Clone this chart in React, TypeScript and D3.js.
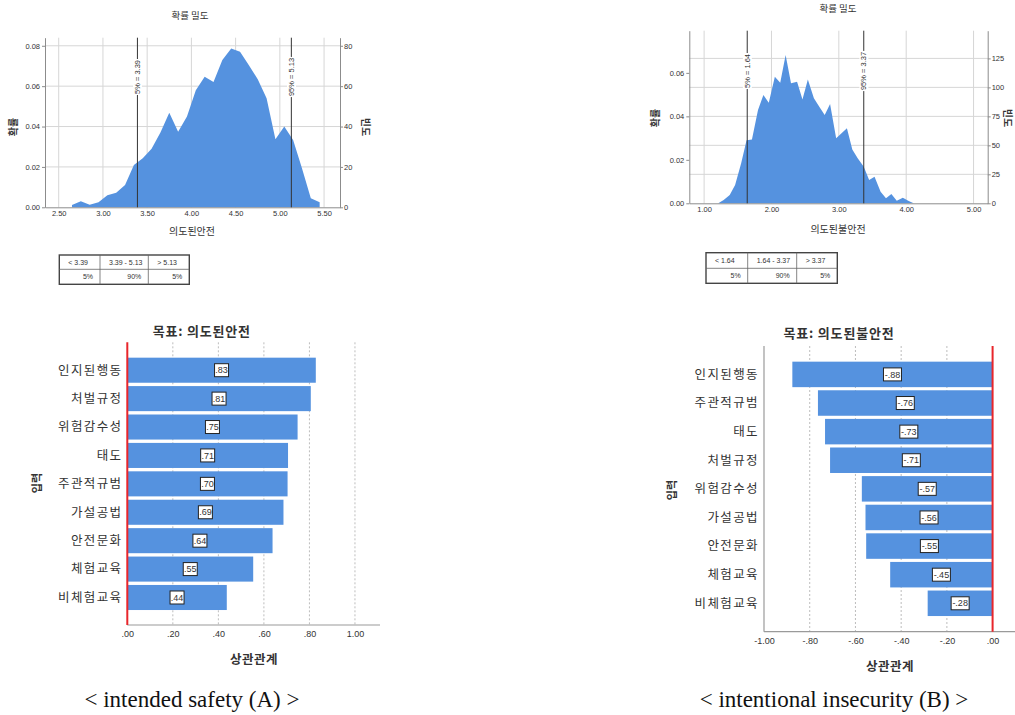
import React, { useRef, useEffect } from "react";
import * as d3 from "d3";

const KR = "'Noto Sans CJK KR', 'Noto Sans', sans-serif";
const NUM = "'Liberation Sans', Arial, sans-serif";
const BLUE = "#5592df";

// 확률 밀도 – 의도된안전
const safetyScores = [2.65, 2.75, 2.85, 2.95, 3.05, 3.15, 3.25, 3.35, 3.45, 3.55, 3.65, 3.75, 3.85, 3.95, 4.05, 4.15, 4.25, 4.35, 4.45, 4.55, 4.65, 4.75, 4.85, 4.95, 5.05, 5.15, 5.25, 5.35, 5.45];
const safetyDensity = [0.0012, 0.003, 0.0013, 0.0025, 0.006, 0.0072, 0.011, 0.021, 0.0243, 0.029, 0.037, 0.0468, 0.0374, 0.045, 0.058, 0.0647, 0.062, 0.073, 0.0787, 0.077, 0.0704, 0.0634, 0.054, 0.0337, 0.04, 0.0333, 0.0193, 0.0045, 0.0025];
const safetyXTicks = [2.5, 3, 3.5, 4, 4.5, 5, 5.5];
const safetyProbTicks = [0, 0.02, 0.04, 0.06, 0.08];
const safetyFreqTicks = [0, 20, 40, 60, 80];
const safetyCuts = [3.39, 5.13];
const safetyCutLabels = ["5% = 3.39", "95% = 5.13"];
const safetyRanges = ["< 3.39", "3.39 - 5.13", "> 5.13"];
const safetyShares = ["5%", "90%", "5%"];

// 확률 밀도 – 의도된불안전
const insecurityScores = [1.21, 1.29, 1.38, 1.46, 1.55, 1.63, 1.71, 1.8, 1.88, 1.96, 2.05, 2.13, 2.21, 2.29, 2.38, 2.46, 2.54, 2.63, 2.71, 2.79, 2.87, 2.96, 3.04, 3.12, 3.2, 3.28, 3.37, 3.45, 3.53, 3.62, 3.7, 3.78, 3.86, 3.95, 4.03, 4.11];
const insecurityDensity = [0, 0.0015, 0.0038, 0.0084, 0.0184, 0.029, 0.0294, 0.0429, 0.0498, 0.0463, 0.0582, 0.0555, 0.0682, 0.0552, 0.0559, 0.0478, 0.057, 0.0483, 0.0444, 0.0406, 0.0457, 0.0299, 0.0322, 0.0345, 0.0248, 0.0207, 0.0168, 0.0107, 0.0122, 0.0053, 0.0023, 0.0043, 0.0012, 0.0026, 0.0012, 0];
const insecurityXTicks = [1, 2, 3, 4, 5];
const insecurityProbTicks = [0, 0.02, 0.04, 0.06];
const insecurityFreqTicks = [0, 25, 50, 75, 100, 125];
const insecurityCuts = [1.64, 3.37];
const insecurityCutLabels = ["5% = 1.64", "95% = 3.37"];
const insecurityRanges = ["< 1.64", "1.64 - 3.37", "> 3.37"];
const insecurityShares = ["5%", "90%", "5%"];

// 상관관계 (민감도)
const safetyFactors = ["인지된행동", "처벌규정", "위험감수성", "태도", "주관적규범", "가설공법", "안전문화", "체험교육", "비체험교육"];
const safetyCorr = [0.828, 0.806, 0.748, 0.706, 0.704, 0.686, 0.638, 0.553, 0.437];
const safetyCorrTicks = [0, 0.2, 0.4, 0.6, 0.8, 1];

const insecurityFactors = ["인지된행동", "주관적규범", "태도", "처벌규정", "위험감수성", "가설공법", "안전문화", "체험교육", "비체험교육"];
const insecurityCorr = [-0.876, -0.764, -0.733, -0.711, -0.572, -0.556, -0.553, -0.448, -0.284];
const insecurityCorrTicks = [-1, -0.8, -0.6, -0.4, -0.2, 0];

const fmt2 = (v) => v.toFixed(2).replace(/^(-?)0\./, "$1.");

function drawDensity(svg, c) {
  const x = d3.scaleLinear().domain(c.xDomain).range([c.left, c.right]);
  const y = d3.scaleLinear().domain([0, c.yMax]).range([c.bottom, c.top]);
  const yf = d3.scaleLinear().domain([0, c.freqMax]).range([c.bottom, c.top]);
  const g = svg.append("g");

  // grid
  g.selectAll("line.vg").data(c.xTicks).join("line").attr("class", "vg")
    .attr("x1", (d) => x(d)).attr("x2", (d) => x(d))
    .attr("y1", c.top).attr("y2", c.bottom)
    .attr("stroke", "#d6d6d6");
  g.selectAll("line.hg").data(c.freqTicks.filter((d) => d > 0)).join("line").attr("class", "hg")
    .attr("x1", c.left).attr("x2", c.right)
    .attr("y1", (d) => yf(d)).attr("y2", (d) => yf(d))
    .attr("stroke", "#d6d6d6");

  const pts = c.xs.map((v, i) => [v, c.ys[i]]);
  g.append("path").datum(pts)
    .attr("d", d3.area().x((d) => x(d[0])).y0(c.bottom).y1((d) => y(d[1])))
    .attr("fill", BLUE);

  const styleAxis = (sel) => {
    sel.select(".domain").attr("stroke", "#8c8c8c");
    sel.selectAll(".tick line").attr("stroke", "#8c8c8c");
    sel.selectAll("text").attr("fill", "#333").style("font-family", NUM).style("font-size", "7.5px");
  };

  g.append("g").attr("transform", `translate(${c.left},0)`)
    .call(d3.axisLeft(y).tickValues(c.probTicks).tickFormat(d3.format(".2f")).tickSize(3).tickPadding(2).tickSizeOuter(0))
    .call(styleAxis);
  g.append("g").attr("transform", `translate(${c.right},0)`)
    .call(d3.axisRight(yf).tickValues(c.freqTicks).tickFormat(d3.format("d")).tickSize(3).tickPadding(1).tickSizeOuter(0))
    .call(styleAxis);
  g.append("g").attr("transform", `translate(0,${c.bottom})`)
    .call(d3.axisBottom(x).tickValues(c.xTicks).tickFormat(d3.format(".2f")).tickSize(0).tickPadding(3).tickSizeOuter(0))
    .call(styleAxis);

  // percentile lines
  c.cuts.forEach((v, i) => {
    g.append("line").attr("x1", x(v)).attr("x2", x(v)).attr("y1", c.top).attr("y2", c.bottom)
      .attr("stroke", "#333").attr("stroke-width", 1);
    const lg = g.append("g").attr("transform", `translate(${x(v)},${c.cutMidY}) rotate(-90)`);
    const rect = lg.append("rect").attr("fill", "#fff");
    const t = lg.append("text").attr("text-anchor", "middle").attr("dy", "0.35em")
      .style("font-family", NUM).style("font-size", "7.5px").attr("fill", "#333").text(c.cutLabels[i]);
    const bb = t.node().getBBox();
    rect.attr("x", bb.x - 1).attr("y", bb.y).attr("width", bb.width + 2).attr("height", bb.height);
  });

  g.append("text").attr("x", c.titleX).attr("y", c.titleY).attr("text-anchor", "middle")
    .style("font-family", KR).style("font-size", "9.5px").attr("fill", "#333").text("확률 밀도");
  g.append("text").attr("x", c.xLabelX).attr("y", c.xLabelY).attr("text-anchor", "middle")
    .style("font-family", KR).style("font-size", "10px").attr("fill", "#333").text(c.xLabel);
  g.append("text").attr("transform", `translate(${c.yLabelX},${c.yLabelY}) rotate(-90)`).attr("text-anchor", "middle")
    .attr("dy", "0.35em").style("font-family", KR).style("font-size", "10px").style("font-weight", "bold")
    .attr("fill", "#333").text("확률");
  g.append("text").attr("transform", `translate(${c.freqLabelX},${c.yLabelY}) rotate(90)`).attr("text-anchor", "middle")
    .attr("dy", "0.35em").style("font-family", KR).style("font-size", "10px").style("font-weight", "bold")
    .attr("fill", "#333").text("빈도");

  // 구간 표
  const tb = c.table;
  const tg = svg.append("g");
  tg.append("rect").attr("x", tb.x0).attr("y", tb.y0).attr("width", tb.x3 - tb.x0).attr("height", tb.y2 - tb.y0)
    .attr("fill", "#fff").attr("stroke", "#444").attr("stroke-width", 1.4);
  tg.append("line").attr("x1", tb.x0).attr("x2", tb.x3).attr("y1", tb.y1).attr("y2", tb.y1).attr("stroke", "#666").attr("stroke-width", 0.8);
  [tb.x1, tb.x2].forEach((xx) => {
    tg.append("line").attr("x1", xx).attr("x2", xx).attr("y1", tb.y0).attr("y2", tb.y2).attr("stroke", "#666").attr("stroke-width", 0.8);
  });
  const cols = [[tb.x0, tb.x1], [tb.x1, tb.x2], [tb.x2, tb.x3]];
  cols.forEach(([a, b], i) => {
    tg.append("text").attr("x", a + 9).attr("y", (tb.y0 + tb.y1) / 2).attr("dy", "0.35em")
      .style("font-family", NUM).style("font-size", "7px").attr("fill", "#333").text(c.ranges[i]);
    tg.append("text").attr("x", b - 7).attr("y", (tb.y1 + tb.y2) / 2).attr("dy", "0.35em").attr("text-anchor", "end")
      .style("font-family", NUM).style("font-size", "7px").attr("fill", "#333").text(c.shares[i]);
  });
}

function drawBars(svg, c) {
  const x = d3.scaleLinear().domain(c.xDomain).range([c.left, c.right]);
  const y = d3.scaleBand().domain(c.factors).range([c.bandTop, c.bandBottom]).paddingInner(c.pad).paddingOuter(c.pad / 2);
  const g = svg.append("g");

  g.selectAll("line.grid").data(c.ticks.filter((d) => d !== 0 && d !== c.xDomain[0])).join("line").attr("class", "grid")
    .attr("x1", (d) => x(d)).attr("x2", (d) => x(d))
    .attr("y1", c.top).attr("y2", c.axisY)
    .attr("stroke", "#bdbdbd").attr("stroke-dasharray", "2,2");

  const rows = c.factors.map((f, i) => ({ f, v: c.values[i] }));
  g.selectAll("rect.bar").data(rows).join("rect").attr("class", "bar")
    .attr("x", (d) => Math.min(x(0), x(d.v)))
    .attr("width", (d) => Math.abs(x(d.v) - x(0)))
    .attr("y", (d) => y(d.f)).attr("height", y.bandwidth())
    .attr("fill", BLUE);

  // bottom axis
  g.append("g").attr("transform", `translate(0,${c.axisY})`)
    .call(d3.axisBottom(x).tickValues(c.ticks).tickFormat(fmt2).tickSize(0).tickPadding(6).tickSizeOuter(0))
    .call((sel) => {
      sel.select(".domain").attr("stroke", "#9a9a9a").attr("stroke-width", 1.2).attr("d", `M${c.left},0H${c.right}`);
      sel.selectAll("text").attr("fill", "#333").style("font-family", NUM).style("font-size", "9px");
    });

  if (c.leftAxisLine) {
    g.append("line").attr("x1", c.left).attr("x2", c.left).attr("y1", c.top).attr("y2", c.axisY)
      .attr("stroke", "#9a9a9a").attr("stroke-width", 1.2);
  }
  g.append("line").attr("x1", x(0)).attr("x2", x(0)).attr("y1", c.top).attr("y2", c.axisY)
    .attr("stroke", "#e8262b").attr("stroke-width", 2);

  // category labels
  g.selectAll("text.cat").data(rows).join("text").attr("class", "cat")
    .attr("x", c.catX).attr("y", (d) => y(d.f) + y.bandwidth() / 2).attr("dy", "0.35em")
    .attr("text-anchor", "end").style("font-family", KR).style("font-size", "12.5px")
    .style("letter-spacing", "1.4px").attr("fill", "#333")
    .text((d) => d.f);

  // value boxes
  rows.forEach((d) => {
    const cx = x(d.v / 2);
    const cy = y(d.f) + y.bandwidth() / 2;
    const w = d.v < 0 ? 18 : 14;
    g.append("rect").attr("x", cx - w / 2).attr("y", cy - 6.5).attr("width", w).attr("height", 13)
      .attr("fill", "#fff").attr("stroke", "#222").attr("stroke-width", 1);
    g.append("text").attr("x", cx).attr("y", cy).attr("dy", "0.35em").attr("text-anchor", "middle")
      .style("font-family", NUM).style("font-size", "9px").attr("fill", "#333").text(fmt2(d.v));
  });

  g.append("text").attr("x", c.titleX).attr("y", c.titleY).attr("text-anchor", "middle")
    .style("font-family", KR).style("font-size", "13px").style("font-weight", "bold").attr("fill", "#333")
    .style("letter-spacing", "0.8px").text(c.title);
  g.append("text").attr("x", c.xLabelX).attr("y", c.xLabelY).attr("text-anchor", "middle")
    .style("font-family", KR).style("font-size", "12.5px").style("font-weight", "bold").attr("fill", "#333")
    .style("letter-spacing", "0.5px").text("상관관계");
  g.append("text").attr("transform", `translate(${c.yLabelX},${c.yLabelY}) rotate(-90)`).attr("text-anchor", "middle")
    .attr("dy", "0.35em").style("font-family", KR).style("font-size", "11px").style("font-weight", "bold")
    .attr("fill", "#333").text("입력");
}

export default function App() {
  const svgRef = useRef(null);

  useEffect(() => {
    const svg = d3.select(svgRef.current);
    svg.selectAll("*").remove();

    drawDensity(svg, {
      left: 45, right: 340, top: 37.7, bottom: 207.3,
      xDomain: [2.345, 5.68], yMax: 0.084, freqMax: 84,
      xTicks: safetyXTicks, probTicks: safetyProbTicks, freqTicks: safetyFreqTicks,
      xs: safetyScores, ys: safetyDensity,
      cuts: safetyCuts, cutLabels: safetyCutLabels, cutMidY: 77,
      titleX: 190, titleY: 19, xLabel: "의도된안전", xLabelX: 192, xLabelY: 235,
      yLabelX: 13, yLabelY: 127, freqLabelX: 365,
      ranges: safetyRanges, shares: safetyShares,
      table: { x0: 59.3, x1: 100, x2: 148.3, x3: 189.3, y0: 255, y1: 269.3, y2: 284.3 },
    });

    drawDensity(svg, {
      left: 689.3, right: 987.7, top: 30.7, bottom: 203.3,
      xDomain: [0.78, 5.21], yMax: 0.0794, freqMax: 148.9,
      xTicks: insecurityXTicks, probTicks: insecurityProbTicks, freqTicks: insecurityFreqTicks,
      xs: insecurityScores, ys: insecurityDensity,
      cuts: insecurityCuts, cutLabels: insecurityCutLabels, cutMidY: 71,
      titleX: 838, titleY: 12, xLabel: "의도된불안전", xLabelX: 838, xLabelY: 233,
      yLabelX: 655, yLabelY: 118, freqLabelX: 1007,
      ranges: insecurityRanges, shares: insecurityShares,
      table: { x0: 706, x1: 747.7, x2: 796.7, x3: 837.3, y0: 252.7, y1: 268.3, y2: 283.3 },
    });

    drawBars(svg, {
      factors: safetyFactors, values: safetyCorr, ticks: safetyCorrTicks,
      xDomain: [0, 1.11], left: 127.3, right: 380,
      bandTop: 356, bandBottom: 611.7, pad: 0.118,
      top: 342.3, axisY: 625, leftAxisLine: false,
      catX: 122.5, title: "목표: 의도된안전", titleX: 201.7, titleY: 336,
      xLabelX: 254, xLabelY: 664, yLabelX: 37, yLabelY: 483,
    });

    drawBars(svg, {
      factors: insecurityFactors, values: insecurityCorr, ticks: insecurityCorrTicks,
      xDomain: [-1, 0.098], left: 764, right: 1015,
      bandTop: 360.1, bandBottom: 617.6, pad: 0.109,
      top: 346, axisY: 631.7, leftAxisLine: true,
      catX: 759, title: "목표: 의도된불안전", titleX: 839, titleY: 338,
      xLabelX: 890, xLabelY: 671, yLabelX: 672, yLabelY: 490,
    });

    const captions = [
      { text: "< intended safety (A) >", x: 192 },
      { text: "< intentional insecurity (B) >", x: 834 },
    ];
    svg.selectAll("text.caption").data(captions).join("text").attr("class", "caption")
      .attr("x", (d) => d.x).attr("y", 707).attr("text-anchor", "middle")
      .style("font-family", "'Liberation Serif', 'Times New Roman', serif").style("font-size", "23px")
      .attr("fill", "#111").text((d) => d.text);
  }, []);

  return (
    <svg
      ref={svgRef}
      width={1015}
      height={715}
      style={{ position: "absolute", left: 0, top: 0, background: "#fff" }}
    />
  );
}
